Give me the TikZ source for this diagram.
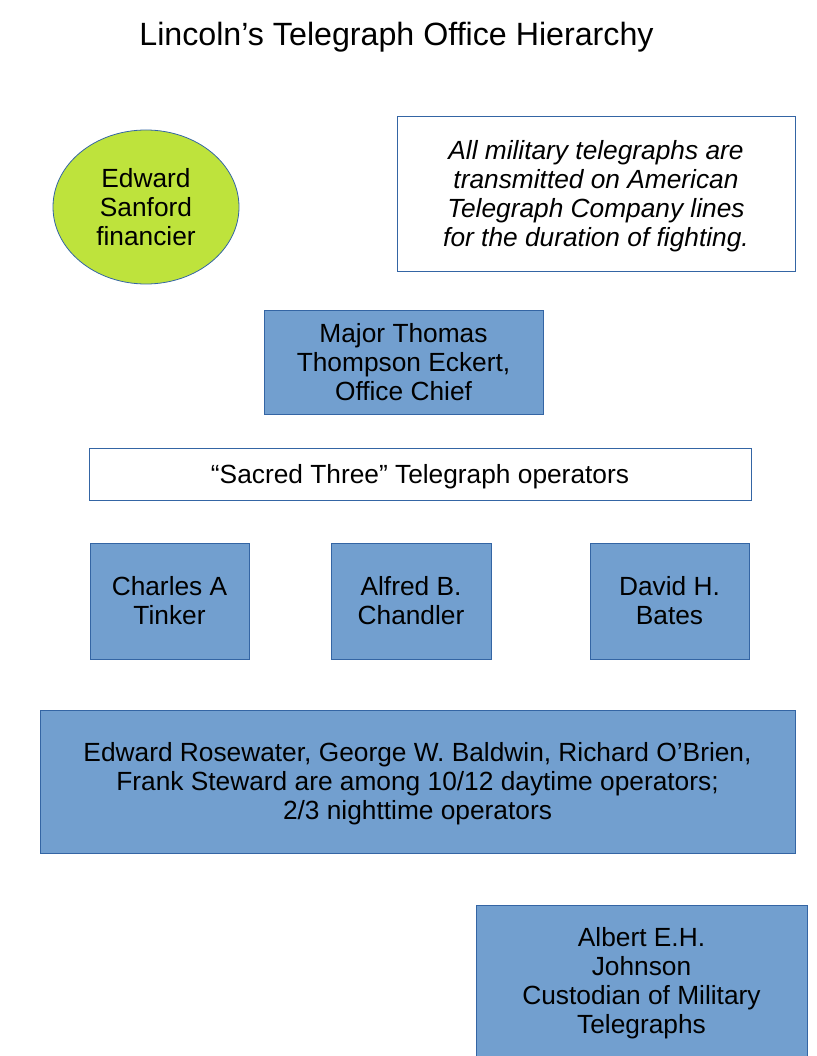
\documentclass[tikz,border=0pt]{standalone}
\usepackage{fontspec}
\setmainfont{Liberation Sans}
\usetikzlibrary{shapes.geometric}
\definecolor{edgeblue}{RGB}{52,101,164}
\definecolor{boxblue}{RGB}{114,159,207}
\definecolor{yellowgreen}{RGB}{190,227,60}
\tikzset{
  x=1pt, y=-1pt,
  txt/.style={font=\fontsize{26.3}{29}\selectfont, align=center, inner sep=0pt},
  base/.style={draw=edgeblue, line width=0.8pt, align=center, inner sep=0pt, txt},
  bluebox/.style={base, fill=boxblue},
  whitebox/.style={base, fill=white},
}
\begin{document}
\begin{tikzpicture}
\useasboundingbox (0,0) rectangle (816,1056);
\node[font=\fontsize{32.2}{36}\selectfont] (title) at (396.5,37) {Lincoln’s Telegraph Office Hierarchy};
\node[base, ellipse, fill=yellowgreen, minimum width=186pt, minimum height=154pt] (sanford) at (146,207) {Edward\\Sanford\\financier};
\node[whitebox, minimum width=398pt, minimum height=155pt] (note) at (596,193.5) {};
\node[txt, font=\fontsize{26.3}{29}\selectfont\itshape] (notetext) at (596,196) {All military telegraphs are\\transmitted on American\\Telegraph Company lines\\for the duration of fighting.};
\node[bluebox, minimum width=279pt, minimum height=104pt] (eckert) at (403.5,362) {Major Thomas\\Thompson Eckert,\\Office Chief};
\node[whitebox, minimum width=662pt, minimum height=52pt] (sacred) at (420,474) {};
\node[txt] (sacredtext) at (420,476.5) {“Sacred Three” Telegraph operators};
\node[bluebox, minimum width=159pt, minimum height=116pt] (tinker) at (169.5,601) {Charles A\\Tinker};
\node[bluebox, minimum width=160pt, minimum height=116pt] (chandler) at (411,601) {Alfred B.\\Chandler};
\node[bluebox, minimum width=159pt, minimum height=116pt] (bates) at (669.5,601) {David H.\\Bates};
\node[bluebox, minimum width=755pt, minimum height=143pt] (others) at (417.5,781.5) {};
\node[txt] (otherstext) at (417.5,783.5) {Edward Rosewater, George W. Baldwin, Richard O’Brien,\\Frank Steward are among 10/12 daytime operators;\\2/3 nighttime operators};
\node[bluebox, minimum width=331pt, minimum height=180pt, anchor=north west] (johnson) at (476,905) {};
\node[txt] (johnsontext) at (641.5,983.5) {Albert E.H.\\Johnson\\Custodian of Military\\Telegraphs};
\end{tikzpicture}
\end{document}
